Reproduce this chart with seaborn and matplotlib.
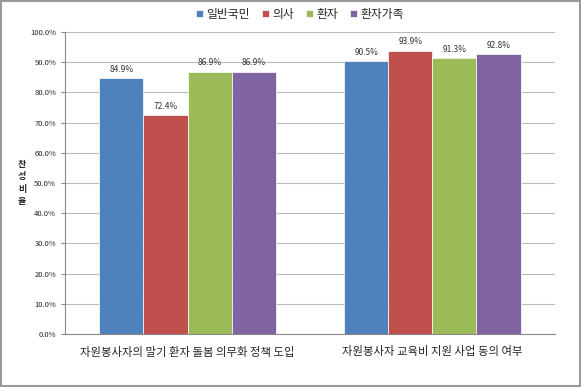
import pandas as pd
import matplotlib.pyplot as plt
import seaborn as sns
from matplotlib.ticker import PercentFormatter, FixedLocator

categories = ['자원봉사자의 말기 환자 돌봄 의무화 정책 도입', '자원봉사자 교육비 지원 사업 동의 여부']
groups = ['일반국민', '의사', '환자', '환자가족']
policy_vals = [84.9, 72.4, 86.9, 86.9]
support_vals = [90.5, 93.9, 91.3, 92.8]

colors = ['#4F81BD', '#C0504D', '#9BBB59', '#8064A2']

df = pd.DataFrame({
    'category': [categories[0]] * 4 + [categories[1]] * 4,
    'group': groups * 2,
    'value': policy_vals + support_vals,
})

sns.set_style('white')
plt.rcParams['font.family'] = ['Noto Sans CJK KR', 'DejaVu Sans']

fig = plt.figure(figsize=(5.81, 3.87), dpi=100)
ax = fig.add_axes([0.112, 0.137, 0.843, 0.78])

sns.barplot(data=df, x='category', y='value', hue='group', palette=colors,
            width=0.72, gap=0, saturation=1, ax=ax, legend=True,
            edgecolor='white', linewidth=0.5)

for cont in ax.containers:
    ax.bar_label(cont, fmt='%.1f%%', fontsize=6, padding=3, color='#333333')

ax.set_ylim(0, 100)
ax.set_xlim(-0.5, 1.5)
ax.yaxis.set_major_locator(FixedLocator(range(0, 101, 10)))
ax.yaxis.set_major_formatter(PercentFormatter(decimals=1))
ax.tick_params(axis='y', labelsize=5.5, length=3, color='#888888', direction='out', left=True)
ax.tick_params(axis='x', labelsize=8.2, length=0, pad=9)
ax.grid(axis='y', color='#BBBBBB', linewidth=0.8)
ax.set_axisbelow(True)

# category boundary ticks
ax.set_xticks([-0.5, 0.5, 1.5], minor=True)
ax.tick_params(axis='x', which='minor', length=3, color='#888888', direction='out')

for s in ['top', 'right']:
    ax.spines[s].set_visible(False)
for s in ['left', 'bottom']:
    ax.spines[s].set_color('#888888')
    ax.spines[s].set_linewidth(0.8)

ax.set_xlabel('')
ax.set_ylabel('찬\n성\n비\n율', rotation=0, fontsize=6.5, fontweight='bold',
              va='center', ha='center', linespacing=1.5)
ax.yaxis.set_label_coords(-0.088, 0.5)

handles, labels = ax.get_legend_handles_labels()
ax.legend(handles, labels, loc='center', bbox_to_anchor=(0.48, 1.06), ncol=4,
          frameon=False, fontsize=8.5, handlelength=0.6, handleheight=0.6,
          handletextpad=0.3, columnspacing=1.0, borderpad=0)

fig.patches.append(plt.Rectangle((0.002, 0.003), 0.996, 0.994, transform=fig.transFigure,
                                 fill=False, edgecolor='#999999', linewidth=1.5))

fig.savefig('out.png', dpi=100)
